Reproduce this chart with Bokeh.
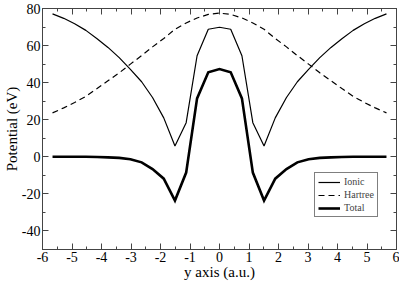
from bokeh.plotting import figure
from bokeh.models import (Range1d, LinearAxis, SingleIntervalTicker, Legend, LegendItem,
                          PrintfTickFormatter, CustomJSTickFormatter)
from bokeh.embed import file_html
from bokeh.resources import INLINE

# ---- data ----
y_pos = [-5.66, -5.28, -4.91, -4.53, -4.15, -3.78, -3.40, -3.02, -2.64, -2.27,
         -1.89, -1.51, -1.13, -0.76, -0.38, 0.00, 0.38, 0.76, 1.13, 1.51,
         1.89, 2.27, 2.64, 3.02, 3.40, 3.78, 4.15, 4.53, 4.91, 5.28, 5.66]

ionic_half = [77.1, 74.7, 71.8, 68.2, 63.7, 59.0, 53.5, 47.2, 40.5, 32.0,
              21.0, 5.8, 18.4, 54.5, 68.8, 69.9]
hartree_half = [23.7, 26.4, 29.3, 32.6, 36.8, 41.0, 45.3, 50.0, 54.6, 59.3,
                63.8, 68.8, 72.2, 74.9, 76.8, 77.5]
total_half = [0.0, 0.0, 0.0, 0.0, -0.1, -0.3, -0.6, -1.3, -3.0, -6.6,
              -11.8, -23.6, -8.5, 31.5, 45.6, 47.3]

ionic = ionic_half + ionic_half[-2::-1]
hartree = hartree_half + hartree_half[-2::-1]
total = total_half + total_half[-2::-1]

x_ticks_interval = 1
y_ticks_interval = 20

FONT = "Liberation Serif"
AX_COL = "#444444"

p = figure(width=399, height=282, output_backend="svg", toolbar_location=None,
           x_range=Range1d(-6, 6), y_range=Range1d(-50, 80),
           min_border_left=0, min_border_right=3, min_border_top=8, min_border_bottom=0)
p.background_fill_color = "white"
p.border_fill_color = "white"
p.outline_line_color = AX_COL
p.xgrid.visible = False
p.ygrid.visible = False

r_ion = p.line(y_pos, ionic, line_color="black", line_width=1.2)
r_har = p.line(y_pos, hartree, line_color="black", line_width=1.2, line_dash="6 4")
r_tot = p.line(y_pos, total, line_color="black", line_width=2.6, line_join="miter")

xt = SingleIntervalTicker(interval=x_ticks_interval, num_minor_ticks=2)
yt = SingleIntervalTicker(interval=y_ticks_interval, num_minor_ticks=2)

def style(ax, labels=True):
    ax.axis_line_color = AX_COL
    ax.major_tick_line_color = AX_COL
    ax.minor_tick_line_color = AX_COL
    ax.major_tick_in = 6
    ax.major_tick_out = 0
    ax.minor_tick_in = 3
    ax.minor_tick_out = 0
    ax.major_label_text_font = FONT
    ax.major_label_text_font_size = "14px"
    ax.major_label_text_color = "black"
    ax.major_label_standoff = 2 if labels else 0
    ax.axis_label_text_font = FONT
    ax.axis_label_text_font_size = "15px"
    ax.axis_label_text_font_style = "normal"
    ax.axis_label_text_color = "black"
    ax.axis_label_standoff = -1
    if labels:
        ax.formatter = PrintfTickFormatter(format="%d")
    else:
        ax.formatter = CustomJSTickFormatter(code="return ''")

p.xaxis.ticker = xt
p.yaxis.ticker = yt
p.xaxis.axis_label = "y axis (a.u.)"
p.yaxis.axis_label = "Potential (eV)"
style(p.xaxis[0])
style(p.yaxis[0])

top = LinearAxis(ticker=xt)
right = LinearAxis(ticker=yt)
style(top, labels=False)
style(right, labels=False)
p.add_layout(top, "above")
p.add_layout(right, "right")

legend = Legend(items=[LegendItem(label="Ionic", renderers=[r_ion]),
                       LegendItem(label="Hartree", renderers=[r_har]),
                       LegendItem(label="Total", renderers=[r_tot])],
                location=(272, 32))
legend.label_text_font = FONT
legend.label_text_font_size = "10px"
legend.label_height = 8
legend.glyph_height = 8
legend.glyph_width = 22
legend.spacing = 2
legend.padding = 3
legend.margin = 0
legend.label_standoff = 4
legend.border_line_color = "black"
legend.border_line_width = 1
legend.background_fill_alpha = 1
p.add_layout(legend, "center")

open("out.html", "w").write(file_html(p, INLINE))
